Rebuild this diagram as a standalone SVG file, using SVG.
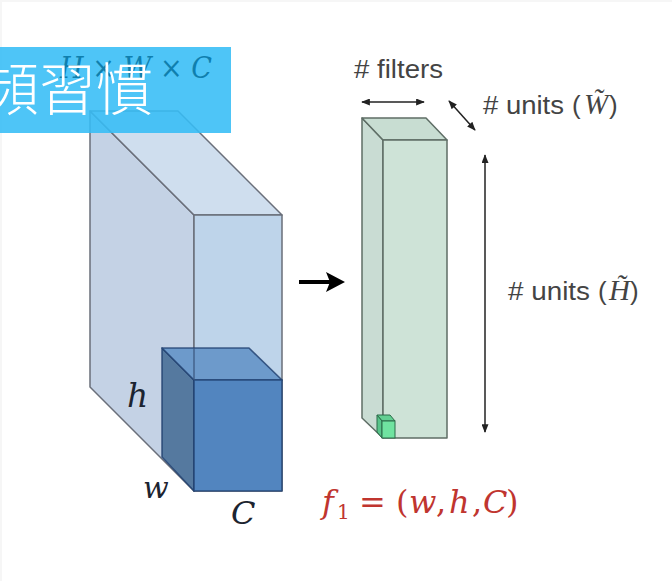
<svg xmlns="http://www.w3.org/2000/svg" width="672" height="581" viewBox="0 0 672 581">
<style>
.lbl{font-family:"Liberation Sans",Arial,sans-serif;font-size:26px;fill:#444}
.m{font-family:"DejaVu Serif","Liberation Serif",serif;font-style:italic;fill:#1c2430}
.mi{font-family:"Liberation Serif",serif;font-style:italic;font-size:29px}
.f{font-family:"DejaVu Serif","Liberation Serif",serif;font-size:32px;fill:#c0352f}
.fi{font-style:italic}
.big{stroke:#6a6f7a;stroke-width:1.5;stroke-linejoin:round}
.cube{stroke:#1f3f6e;stroke-width:1.6;stroke-linejoin:round}
.col{stroke:#5f6e66;stroke-width:1.5;stroke-linejoin:round}
.arr{stroke:#222;stroke-width:1.5;fill:none;marker-start:url(#h);marker-end:url(#h)}
</style>
<defs>
<marker id="h" viewBox="0 0 10 8" refX="9" refY="4" markerWidth="9" markerHeight="7" markerUnits="userSpaceOnUse" orient="auto-start-reverse"><path d="M0 0L10 4L0 8Z" fill="#222"/></marker>
</defs>
<rect width="672" height="581" fill="#fff"/>
<rect x="0" y="0" width="672" height="2" fill="#f6f6f6"/>
<rect x="0" y="0" width="2" height="581" fill="#f6f6f6"/>

<g id="input-volume">
<path class="big" d="M90 111L194 215V491L90 387Z" fill="#c4d2e5"/>
<path class="big" d="M90 111H178L282 215H194Z" fill="#cfdeee"/>
<rect class="big" x="194" y="215" width="88" height="276" fill="#bed4ea"/>
</g>
<g id="filter-cube">
<path class="cube" d="M162 348L194 380V491L162 457Z" fill="#55799f" stroke-opacity=".8"/>
<path class="cube" d="M162 348H249L282 380H194Z" fill="#6d9acb" stroke-opacity=".8"/>
<rect class="cube" x="194" y="380" width="88" height="111" fill="#5285bf" stroke-opacity=".8"/>
<line x1="194" y1="348" x2="194" y2="380" stroke="#39557c" stroke-width="1.2"/>
</g>
<g id="labels-left">
<text class="m" x="127" y="407" font-size="33">h</text>
<text class="m" x="143" y="498" font-size="30">w</text>
<text class="m" x="231" y="524" font-size="32">C</text>
</g>
<g id="output-column">
<path class="col" d="M362 118L383 140V438L362 418Z" fill="#c9dcd3"/>
<path class="col" d="M362 118H426L447 140H383Z" fill="#c8ddd2"/>
<rect class="col" x="383" y="140" width="64" height="298" fill="#cee3d7"/>
</g>
<g id="small-cube">
<path d="M377 415H390L395 421H382Z" fill="#62cf92" stroke="#2b6b48"/>
<path d="M377 415L382 421V438L377 432Z" fill="#58c48a" stroke="#2b6b48"/>
<rect x="382" y="421" width="13" height="17" fill="#6fe3a0" stroke="#2b6b48"/>
</g>
<g id="connectors">
<line x1="299" y1="282" x2="332" y2="282" stroke="#000" stroke-width="4"/>
<path d="M345 282L326 272L330 282L326 292Z" fill="#000"/>
<line class="arr" x1="362" y1="102" x2="424" y2="102"/>
<line class="arr" x1="449" y1="101" x2="475" y2="130"/>
<line class="arr" x1="485" y1="155" x2="485" y2="432"/>
</g>
<g id="labels-right">
<text class="lbl" x="354" y="78" textLength="89" lengthAdjust="spacingAndGlyphs"># filters</text>
<text class="lbl" x="483" y="114" textLength="81" lengthAdjust="spacingAndGlyphs"># units</text>
<text class="lbl" x="572" y="114">(<tspan class="mi" x="584">W̃</tspan><tspan x="609">)</tspan></text>
<text class="lbl" x="508" y="300" textLength="82" lengthAdjust="spacingAndGlyphs"># units</text>
<text class="lbl" x="598" y="300">(<tspan class="mi" x="609">H̃</tspan><tspan x="630">)</tspan></text>
</g>
<g id="formula">
<text class="f" y="513"><tspan class="fi" x="322">f</tspan><tspan x="337" y="519" font-size="20">1</tspan><tspan x="359" y="513">=</tspan><tspan x="396">(</tspan><tspan class="fi" x="409">w</tspan><tspan x="436">,</tspan><tspan class="fi" x="449">h</tspan><tspan x="472">,</tspan><tspan class="fi" x="483">C</tspan><tspan x="506">)</tspan></text>
</g>
<g id="banner">
<rect x="0" y="47" width="231" height="86" fill="#36bdf6" fill-opacity=".88"/>
<text x="60" y="78" font-family="DejaVu Serif,Liberation Serif,serif" font-style="italic" font-size="30" fill="#0f7fae" textLength="152" lengthAdjust="spacingAndGlyphs">H × W × C</text>
<text x="-18" y="110" font-family="Noto Sans CJK TC,Noto Sans CJK SC,sans-serif" font-size="57" font-weight="300" fill="#fff">頻習慣</text>
</g>
</svg>
